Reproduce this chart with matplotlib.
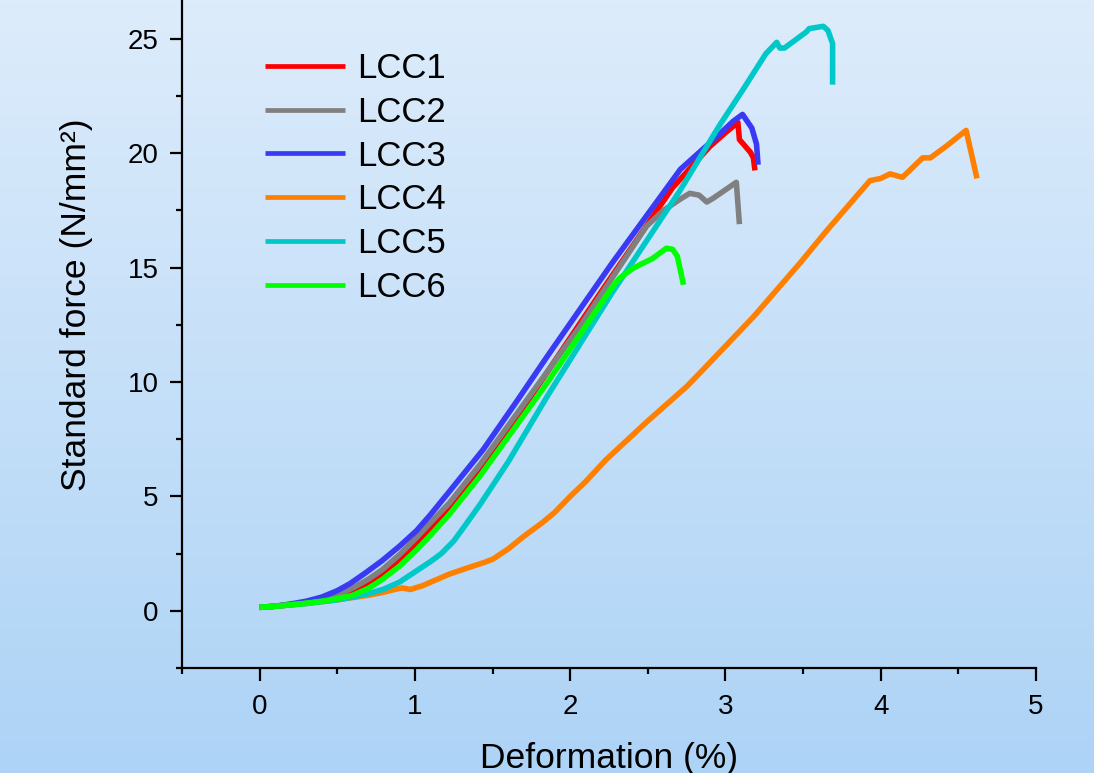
import numpy as np
import matplotlib
matplotlib.use("Agg")
from matplotlib import pyplot as plt
from matplotlib.ticker import MultipleLocator

plt.rcParams['font.family'] = ['Liberation Sans', 'DejaVu Sans']

# tensile curves (deformation %, stress N/mm2)
lcc1_x = [0, 0.1, 0.2, 0.3, 0.4, 0.5, 0.6, 0.7, 0.79, 0.9, 1.01, 1.1, 1.22, 1.42, 1.72, 2.22, 2.66,
          2.9, 3.0, 3.08, 3.09, 3.16, 3.18, 3.19]
lcc1_y = [0.15, 0.2, 0.27, 0.36, 0.48, 0.65, 0.9, 1.22, 1.6, 2.2, 2.9, 3.55, 4.4, 6.1, 9.1, 14.15, 18.5,
          20.3, 20.9, 21.35, 20.6, 20.05, 19.8, 19.25]

lcc2_x = [0, 0.1, 0.2, 0.3, 0.4, 0.5, 0.6, 0.7, 0.79, 0.9, 1.01, 1.1, 1.22, 1.42, 2.06, 2.49, 2.6,
          2.71, 2.77, 2.83, 2.88, 2.92, 3.07, 3.09]
lcc2_y = [0.15, 0.2, 0.27, 0.37, 0.5, 0.7, 1.0, 1.38, 1.8, 2.45, 3.2, 3.85, 4.7, 6.4, 12.4, 16.8, 17.5,
          18.0, 18.25, 18.17, 17.87, 18.03, 18.73, 16.9]

lcc3_x = [0, 0.1, 0.2, 0.3, 0.4, 0.5, 0.58, 0.68, 0.79, 0.9, 1.01, 1.1, 1.22, 1.44, 1.66, 1.85, 2.27,
          2.71, 2.94, 3.05, 3.11, 3.17, 3.2, 3.21]
lcc3_y = [0.15, 0.2, 0.3, 0.42, 0.6, 0.88, 1.18, 1.65, 2.2, 2.82, 3.5, 4.2, 5.2, 7.05, 9.2, 11.1, 15.2,
          19.3, 20.7, 21.4, 21.7, 21.1, 20.4, 19.5]

lcc4_x = [0, 0.1, 0.2, 0.3, 0.4, 0.5, 0.6, 0.7, 0.79, 0.88, 0.92, 0.97, 1.05, 1.22, 1.35, 1.44, 1.5,
          1.6, 1.7, 1.82, 1.9, 2.0, 2.1, 2.23, 2.5, 2.75, 2.85, 3.18, 3.48, 3.65, 3.93, 4.0, 4.06,
          4.14, 4.27, 4.32, 4.42, 4.55, 4.62]
lcc4_y = [0.15, 0.2, 0.26, 0.32, 0.4, 0.48, 0.58, 0.68, 0.8, 0.95, 1.0, 0.93, 1.1, 1.6, 1.9, 2.1, 2.25,
          2.7, 3.25, 3.85, 4.3, 5.0, 5.65, 6.6, 8.3, 9.8, 10.5, 12.85, 15.2, 16.6, 18.8, 18.9, 19.1,
          18.95, 19.8, 19.8, 20.3, 21.0, 18.9]

lcc5_x = [0, 0.1, 0.2, 0.3, 0.4, 0.5, 0.6, 0.7, 0.8, 0.9, 1.0, 1.1, 1.17, 1.25, 1.32, 1.42, 1.6, 1.85,
          2.27, 2.71, 2.96, 3.11, 3.26, 3.33, 3.35, 3.38, 3.52, 3.54, 3.63, 3.66, 3.69, 3.69]
lcc5_y = [0.15, 0.2, 0.26, 0.32, 0.4, 0.48, 0.6, 0.75, 0.95, 1.25, 1.7, 2.15, 2.5, 3.05, 3.7, 4.65, 6.5,
          9.35, 13.9, 18.4, 21.2, 22.75, 24.35, 24.85, 24.6, 24.6, 25.3, 25.45, 25.55, 25.37, 24.8, 23.0]

lcc6_x = [0, 0.1, 0.2, 0.3, 0.4, 0.5, 0.6, 0.7, 0.79, 0.9, 1.01, 1.1, 1.22, 1.42, 1.85, 2.27, 2.32,
          2.4, 2.47, 2.53, 2.62, 2.66, 2.69, 2.73]
lcc6_y = [0.15, 0.2, 0.26, 0.33, 0.42, 0.53, 0.68, 0.98, 1.37, 1.95, 2.66, 3.3, 4.2, 5.9, 9.95, 14.15, 14.55,
          14.95, 15.2, 15.4, 15.85, 15.8, 15.5, 14.25]

labels = ['LCC1', 'LCC2', 'LCC3', 'LCC4', 'LCC5', 'LCC6']
colors = ['#ff0000', '#808080', '#3a3af5', '#ff8000', '#00c8c8', '#00ff00']
series = [(lcc1_x, lcc1_y), (lcc2_x, lcc2_y), (lcc3_x, lcc3_y),
          (lcc4_x, lcc4_y), (lcc5_x, lcc5_y), (lcc6_x, lcc6_y)]

fig = plt.figure(figsize=(10.94, 7.73), dpi=100)

# light blue gradient behind everything
bg = fig.add_axes([0, 0, 1, 1], zorder=-10)
top = np.array([221, 236, 251]) / 255.0
bot = np.array([173, 211, 246]) / 255.0
t = np.linspace(0, 1, 256)[:, None]
grad = (top * (1 - t) + bot * t)[:, None, :]
bg.imshow(grad, aspect='auto', extent=[0, 1, 0, 1])
bg.axis('off')

ax = fig.add_axes([182 / 1094, 1 - 668 / 773, 854 / 1094, 668 / 773])
ax.patch.set_alpha(0)

for (xs, ys), lab, c in zip(series, labels, colors):
    ax.plot(xs, ys, color=c, lw=4.0, label=lab, solid_capstyle='butt', solid_joinstyle='round')

ax.set_xlim(-0.5, 5)
ax.set_ylim(-2.5, 26.7)
ax.xaxis.set_major_locator(MultipleLocator(1))
ax.xaxis.set_minor_locator(MultipleLocator(0.5))
ax.yaxis.set_major_locator(MultipleLocator(5))
ax.yaxis.set_minor_locator(MultipleLocator(2.5))

for s in ['top', 'right']:
    ax.spines[s].set_visible(False)
for s in ['left', 'bottom']:
    ax.spines[s].set_linewidth(1.6)

ax.tick_params(which='major', direction='out', length=9, width=1.6, labelsize=20)
ax.tick_params(axis='x', which='major', pad=10)
ax.tick_params(axis='y', which='major', pad=8)
ax.tick_params(which='minor', direction='out', length=4.5, width=1.6)

ax.set_xlabel('Deformation (%)', fontsize=25.5)
ax.xaxis.set_label_coords(0.5, -0.1497)
ax.xaxis.label.set_va('baseline')
ax.set_ylabel('Standard force (N/mm²)', fontsize=25.5)
ax.yaxis.set_label_coords(-0.1241, 0.5434)
ax.yaxis.label.set_va('center')

leg = ax.legend(loc='upper left', bbox_to_anchor=(0.097, 0.922), frameon=False,
                fontsize=25, handlelength=2.3, handletextpad=0.35,
                labelspacing=0.31, borderpad=0, borderaxespad=0)
for h in leg.get_lines():
    h.set_linewidth(3.4)

fig.savefig('out.png', dpi=100)
